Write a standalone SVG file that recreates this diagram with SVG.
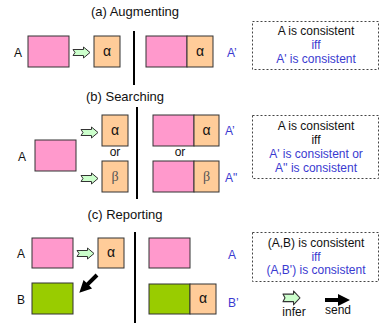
<svg xmlns="http://www.w3.org/2000/svg" width="380" height="323" viewBox="0 0 380 323">
<style>
text{font-family:"Liberation Sans",Arial,sans-serif;font-size:12px;fill:#111}
.title{font-size:13px;text-anchor:middle}
.c{text-anchor:middle}
.blue{fill:#3a3ad0}
.pink{fill:#ff99cc;stroke:#333;stroke-width:1}
.org{fill:#ffcc99;stroke:#333;stroke-width:1}
.grn{fill:#99cc00;stroke:#333;stroke-width:1}
.sym{font-size:14px;text-anchor:middle}
.beta{font-family:"Liberation Serif","Times New Roman",serif;font-size:14px;text-anchor:middle;fill:#555}
.dash{fill:none;stroke:#444;stroke-width:1;stroke-dasharray:2,2}
.bar{stroke:#000;stroke-width:2}
.inf{fill:#ccffcc;stroke:#333;stroke-width:1;stroke-linejoin:round}
.send{fill:#000}
</style>
<defs>
<path id="infer" d="M0,2.5 L10.5,2.5 L10.5,0 L17,5.5 L10.5,11 L10.5,8.5 L0,8.5 L2,5.5 Z"/>
</defs>

<!-- titles -->
<text class="title" x="135" y="16">(a) Augmenting</text>
<text class="title" x="125" y="101">(b) Searching</text>
<text class="title" x="125" y="219">(c) Reporting</text>

<!-- separators -->
<line class="bar" x1="134" y1="31" x2="134" y2="85"/>
<line class="bar" x1="137" y1="107" x2="137" y2="199"/>
<line class="bar" x1="135" y1="232" x2="135" y2="323"/>

<!-- (a) -->
<g id="a-A">
<text x="14" y="57">A</text>
<rect class="pink" x="28" y="36" width="41" height="31"/>
</g>
<g id="a-alpha">
<rect class="org" x="94" y="36" width="26" height="31"/>
<text class="sym" x="107" y="56">α</text>
</g>
<g id="a-Aprime">
<rect class="pink" x="146" y="36" width="41" height="31"/>
<rect class="org" x="187" y="36" width="26" height="31"/>
<text class="sym" x="200" y="56">α</text>
<text class="blue" x="227" y="57">A’</text>
</g>
<g id="a-rule">
<rect class="dash" x="252.5" y="21.5" width="126" height="48"/>
<text class="c" x="316" y="35">A is consistent</text>
<text class="c blue" x="316" y="49">iff</text>
<text class="c blue" x="316" y="63">A' is consistent</text>
</g>

<!-- (b) -->
<g id="b-A">
<text x="18" y="161">A</text>
<rect class="pink" x="35" y="140" width="41" height="31"/>
</g>
<g id="b-alpha">
<rect class="org" x="102" y="115" width="26" height="31"/>
<text class="sym" x="115" y="135">α</text>
</g>
<text class="c" x="115" y="156">or</text>
<g id="b-beta">
<rect class="org" x="102" y="161" width="26" height="31"/>
<text class="beta" x="115" y="181">β</text>
</g>
<g id="b-Aprime">
<rect class="pink" x="153" y="115" width="41" height="31"/>
<rect class="org" x="194" y="115" width="25" height="31"/>
<text class="sym" x="206.5" y="135">α</text>
<text class="blue" x="225" y="135">A’</text>
</g>
<text class="c" x="180" y="156">or</text>
<g id="b-Adprime">
<rect class="pink" x="153" y="161" width="41" height="31"/>
<rect class="org" x="194" y="161" width="25" height="31"/>
<text class="beta" x="206.5" y="181">β</text>
<text class="blue" x="225" y="182">A"</text>
</g>
<g id="b-rule">
<rect class="dash" x="252.5" y="115.5" width="126" height="63"/>
<text class="c" x="316" y="130">A is consistent</text>
<text class="c" x="316" y="143.5">iff</text>
<text class="c blue" x="316" y="158">A' is consistent or</text>
<text class="c blue" x="316" y="172">A'' is consistent</text>
</g>

<!-- (c) -->
<g id="c-A">
<text x="17" y="258">A</text>
<rect class="pink" x="32" y="238" width="41" height="30"/>
</g>
<g id="c-B">
<text x="17" y="304">B</text>
<rect class="grn" x="32" y="283" width="41" height="31"/>
</g>
<g id="c-alpha">
<rect class="org" x="98" y="238" width="26" height="30"/>
<text class="sym" x="111" y="257">α</text>
</g>
<g id="c-A2">
<rect class="pink" x="149" y="238" width="41" height="30"/>
<text class="blue" x="228" y="259">A</text>
</g>
<g id="c-Bprime">
<rect class="grn" x="149" y="284" width="41" height="30"/>
<rect class="org" x="190" y="284" width="26" height="30"/>
<text class="sym" x="203" y="303">α</text>
<text class="blue" x="228" y="307">B’</text>
</g>
<g id="c-rule">
<rect class="dash" x="252.5" y="232.5" width="126" height="49"/>
<text class="c" x="316" y="247">(A,B) is consistent</text>
<text class="c blue" x="316" y="260.5">iff</text>
<text class="c blue" x="316" y="274">(A,B') is consistent</text>
</g>

<!-- legend -->
<g id="legend">
<text class="c" x="294" y="316">infer</text>
<text class="c" x="338" y="314">send</text>
</g>

<!-- connectors -->
<g id="connectors">
<use href="#infer" class="inf" x="73" y="47"/>
<use href="#infer" class="inf" x="81" y="127"/>
<use href="#infer" class="inf" x="81" y="173"/>
<use href="#infer" class="inf" x="77" y="248"/>
<use href="#infer" class="inf" transform="translate(283,291) scale(1,1.25)"/>
<path class="send" transform="translate(97,275) rotate(135)" d="M0,-2 L13,-2 L13,-6 L25,0 L13,6 L13,2 L0,2 Z"/>
<path class="send" d="M325,298 L338,298 L338,294 L350,300 L338,306 L338,302 L325,302 Z"/>
</g>
</svg>
